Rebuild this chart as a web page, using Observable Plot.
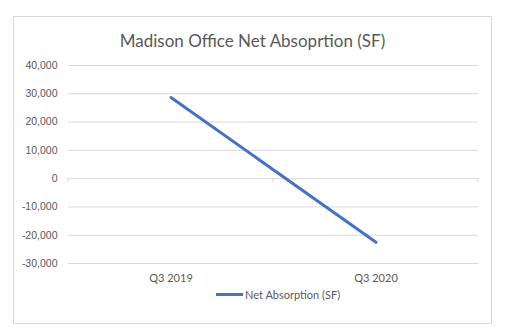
<!DOCTYPE html>
<html>
<head>
<meta charset="utf-8">
<script src="https://cdn.jsdelivr.net/npm/d3@7"></script>
<script src="https://cdn.jsdelivr.net/npm/@observablehq/plot@0.6"></script>
<style>
  html, body { margin: 0; padding: 0; background: #fff; }
  #page { position: relative; width: 520px; height: 334px; overflow: hidden; }
  #frame { position: absolute; left: 13px; top: 16px; width: 479px; height: 308px; border: 1px solid #d9d9d9; box-sizing: border-box; }
  #title { position: absolute; left: 0; width: 505px; top: 30px; text-align: center; font-family: Lato, sans-serif; font-size: 17px; color: #595959; }
  #chart { position: absolute; left: 0; top: 0; }
  #legend { position: absolute; top: 288px; left: 216px; font-family: Lato, sans-serif; font-size: 11px; color: #595959; display: flex; align-items: center; }
  #legend .sw { width: 27px; height: 3px; background: #4472C4; margin-right: 2px; }
</style>
</head>
<body>
<div id="page">
  <div id="frame"></div>
  <div id="chart"></div>
  <div id="title">Madison Office Net Absoprtion (SF)</div>
  <div id="legend"><span class="sw"></span><span>Net Absorption (SF)</span></div>
</div>
<script>
const categories = ["Q3 2019", "Q3 2020"];
const absorption = [28700, -22500];
const yTicks = [40000, 30000, 20000, 10000, 0, -10000, -20000, -30000];
const seriesName = "Net Absorption (SF)";

const data = categories.map((c, i) => ({quarter: c, value: absorption[i]}));
const fmt = d3.format(",");

const chart = Plot.plot({
  width: 520,
  height: 290,
  marginLeft: 68,
  marginRight: 42,
  marginTop: 65,
  marginBottom: 27,
  style: {background: "transparent", overflow: "visible"},
  x: {type: "band", domain: categories, padding: 0, label: null},
  y: {domain: [-30000, 40000], label: null},
  marks: [
    Plot.ruleY(yTicks, {stroke: "#d9d9d9", strokeWidth: 1}),
    Plot.axisY({ticks: yTicks, tickSize: 0, tickPadding: 11, tickFormat: d => fmt(d).replace("−", "-"), fontSize: 10.5, fontFamily: "Liberation Sans, Arial, sans-serif", fill: "#595959", label: null}),
    Plot.axisX({tickSize: 0, tickPadding: 11, fontSize: 11, fontFamily: "Lato, sans-serif", fill: "#595959", label: null}),
    Plot.lineY(data, {x: "quarter", y: "value", stroke: "#4472C4", strokeWidth: 3, strokeLinecap: "round"})
  ]
});
document.getElementById("chart").appendChild(chart);

// small tick marks at band boundaries on the zero line, placed via the chart's scales
const xs = chart.scale("x"), ys = chart.scale("y");
const bounds = [...categories.map(c => xs.apply(c)), xs.range[1]];
const y0 = ys.apply(0);
d3.select(chart).append("g").selectAll("line").data(bounds).join("line")
  .attr("x1", d => d).attr("x2", d => d)
  .attr("y1", y0).attr("y2", y0 + 4)
  .attr("stroke", "#d9d9d9");
</script>
</body>
</html>
